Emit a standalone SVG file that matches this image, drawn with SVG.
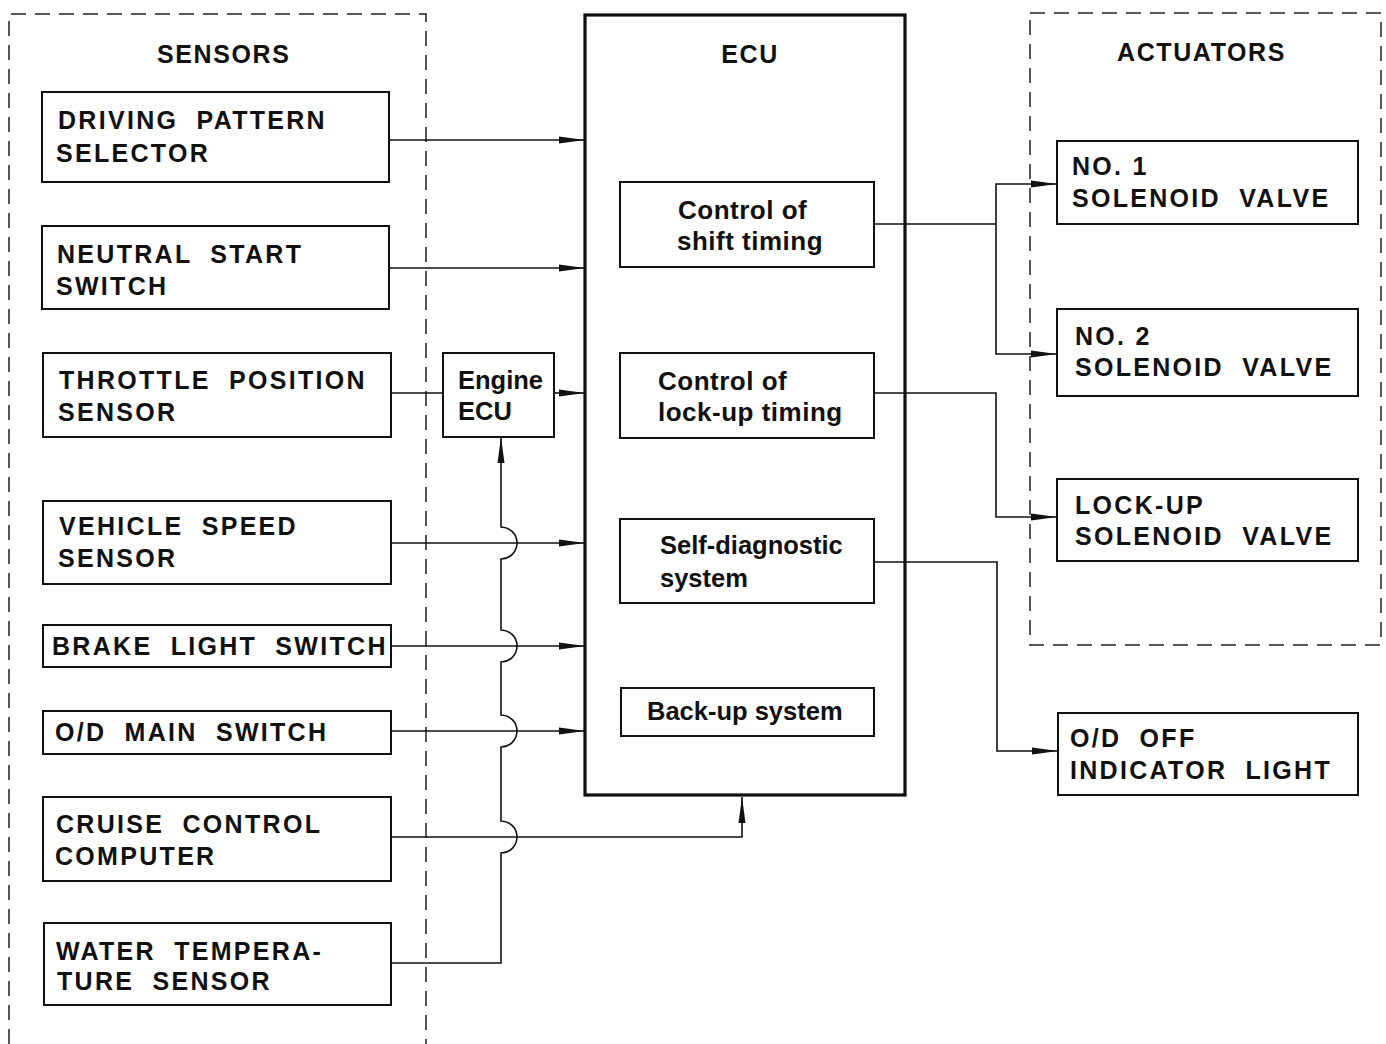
<svg xmlns="http://www.w3.org/2000/svg" width="1386" height="1044" viewBox="0 0 1386 1044">
<defs>
<style>
.bg{fill:#fff}
.box{fill:#fff;stroke:#111;stroke-width:2}
.ecu{fill:none;stroke:#111;stroke-width:3.2}
.dash{fill:none;stroke:#222;stroke-width:1.5;stroke-dasharray:15 9}
.ln{fill:none;stroke:#111;stroke-width:1.6}
.arr{marker-end:url(#ah)}
.cap{font-family:"Liberation Sans",Arial,sans-serif;font-weight:bold;font-size:25px;letter-spacing:2.3px;word-spacing:9px;fill:#111}
.nw{word-spacing:0px}
.hdr{font-family:"Liberation Sans",Arial,sans-serif;font-weight:bold;font-size:25px;letter-spacing:1.6px;fill:#111}
.mix{font-family:"Liberation Sans",Arial,sans-serif;font-weight:bold;font-size:25.5px;letter-spacing:0px;fill:#111}
.wide{font-size:26px;letter-spacing:0.5px}
</style>
<marker id="ah" markerUnits="userSpaceOnUse" markerWidth="26" markerHeight="10" refX="26" refY="5" orient="auto">
<path d="M0,1.5 L26,5 L0,8.5 z" fill="#111"/>
</marker>
</defs>
<rect class="bg" x="0" y="0" width="1386" height="1044"/>

<g id="sensors-group">
<path class="dash" d="M9,1044 L9,14 L426,14 L426,1044"/>
<text class="hdr" x="157" y="63">SENSORS</text>
</g>
<g id="actuators-group">
<rect class="dash" x="1030" y="13" width="351" height="632"/>
<text class="hdr" x="1117" y="61">ACTUATORS</text>
</g>

<g id="connectors">
<path class="ln arr" d="M389,140 L585,140"/>
<path class="ln arr" d="M389,268 L585,268"/>
<path class="ln" d="M391,393 L443,393"/>
<path class="ln arr" d="M554,393 L585,393"/>
<path class="ln arr" d="M391,543 L585,543"/>
<path class="ln arr" d="M391,646 L585,646"/>
<path class="ln arr" d="M391,731 L585,731"/>
<path class="ln arr" d="M391,837 L742,837 L742,797"/>
<path class="ln arr" d="M391,963 L501,963 L501,853 A16,16 0 0 0 501,821 L501,747 A16,16 0 0 0 501,715 L501,662 A16,16 0 0 0 501,630 L501,559 A16,16 0 0 0 501,527 L501,437"/>
<path class="ln" d="M874,224 L996,224"/>
<path class="ln arr" d="M996,224 L996,184 L1057,184"/>
<path class="ln arr" d="M996,224 L996,354 L1057,354"/>
<path class="ln arr" d="M874,393 L996,393 L996,517 L1057,517"/>
<path class="ln arr" d="M874,562 L997,562 L997,751 L1058,751"/>
</g>

<g id="ecu">
<rect class="ecu" x="585" y="15" width="320" height="780"/>
<text class="hdr" x="750" y="63" text-anchor="middle">ECU</text>
</g>
<g id="shift-timing">
<rect class="box" x="620" y="182" width="254" height="85"/>
<text class="mix wide" x="678" y="219">Control of</text>
<text class="mix wide" x="677" y="250">shift timing</text>
</g>
<g id="lockup-timing">
<rect class="box" x="620" y="353" width="254" height="85"/>
<text class="mix wide" x="658" y="390">Control of</text>
<text class="mix wide" x="658" y="421">lock-up timing</text>
</g>
<g id="self-diag">
<rect class="box" x="620" y="519" width="254" height="84"/>
<text class="mix" x="660" y="554">Self-diagnostic</text>
<text class="mix" x="660" y="587">system</text>
</g>
<g id="backup">
<rect class="box" x="621" y="688" width="253" height="48"/>
<text class="mix" x="647" y="720">Back-up system</text>
</g>

<g id="engine-ecu">
<rect class="box" x="443" y="353" width="111" height="84"/>
<text class="mix" x="458" y="389">Engine</text>
<text class="mix" x="458" y="420">ECU</text>
</g>

<g id="driving-pattern">
<rect class="box" x="42" y="92" width="347" height="90"/>
<text class="cap" x="58" y="129">DRIVING PATTERN</text>
<text class="cap" x="56" y="162">SELECTOR</text>
</g>
<g id="neutral-start">
<rect class="box" x="42" y="226" width="347" height="83"/>
<text class="cap" x="57" y="263">NEUTRAL START</text>
<text class="cap" x="56" y="295">SWITCH</text>
</g>
<g id="throttle">
<rect class="box" x="43" y="353" width="348" height="84"/>
<text class="cap" x="59" y="389">THROTTLE POSITION</text>
<text class="cap" x="58" y="421">SENSOR</text>
</g>
<g id="vehicle-speed">
<rect class="box" x="43" y="501" width="348" height="83"/>
<text class="cap" x="59" y="535">VEHICLE SPEED</text>
<text class="cap" x="58" y="567">SENSOR</text>
</g>
<g id="brake-light">
<rect class="box" x="43" y="625" width="348" height="42"/>
<text class="cap" x="52" y="655">BRAKE LIGHT SWITCH</text>
</g>
<g id="od-main">
<rect class="box" x="43" y="711" width="348" height="43"/>
<text class="cap" x="55" y="741">O/D MAIN SWITCH</text>
</g>
<g id="cruise">
<rect class="box" x="43" y="797" width="348" height="84"/>
<text class="cap" x="56" y="833">CRUISE CONTROL</text>
<text class="cap" x="55" y="865">COMPUTER</text>
</g>
<g id="water-temp">
<rect class="box" x="44" y="923" width="347" height="82"/>
<text class="cap" x="56" y="960">WATER TEMPERA-</text>
<text class="cap" x="57" y="990">TURE SENSOR</text>
</g>

<g id="no1-solenoid">
<rect class="box" x="1057" y="141" width="301" height="83"/>
<text class="cap nw" x="1072" y="175">NO. 1</text>
<text class="cap" x="1072" y="207">SOLENOID VALVE</text>
</g>
<g id="no2-solenoid">
<rect class="box" x="1057" y="309" width="301" height="87"/>
<text class="cap nw" x="1075" y="345">NO. 2</text>
<text class="cap" x="1075" y="376">SOLENOID VALVE</text>
</g>
<g id="lockup-solenoid">
<rect class="box" x="1057" y="479" width="301" height="82"/>
<text class="cap" x="1075" y="514">LOCK-UP</text>
<text class="cap" x="1075" y="545">SOLENOID VALVE</text>
</g>
<g id="od-off">
<rect class="box" x="1058" y="713" width="300" height="82"/>
<text class="cap" x="1070" y="747">O/D OFF</text>
<text class="cap" x="1070" y="779">INDICATOR LIGHT</text>
</g>
</svg>
